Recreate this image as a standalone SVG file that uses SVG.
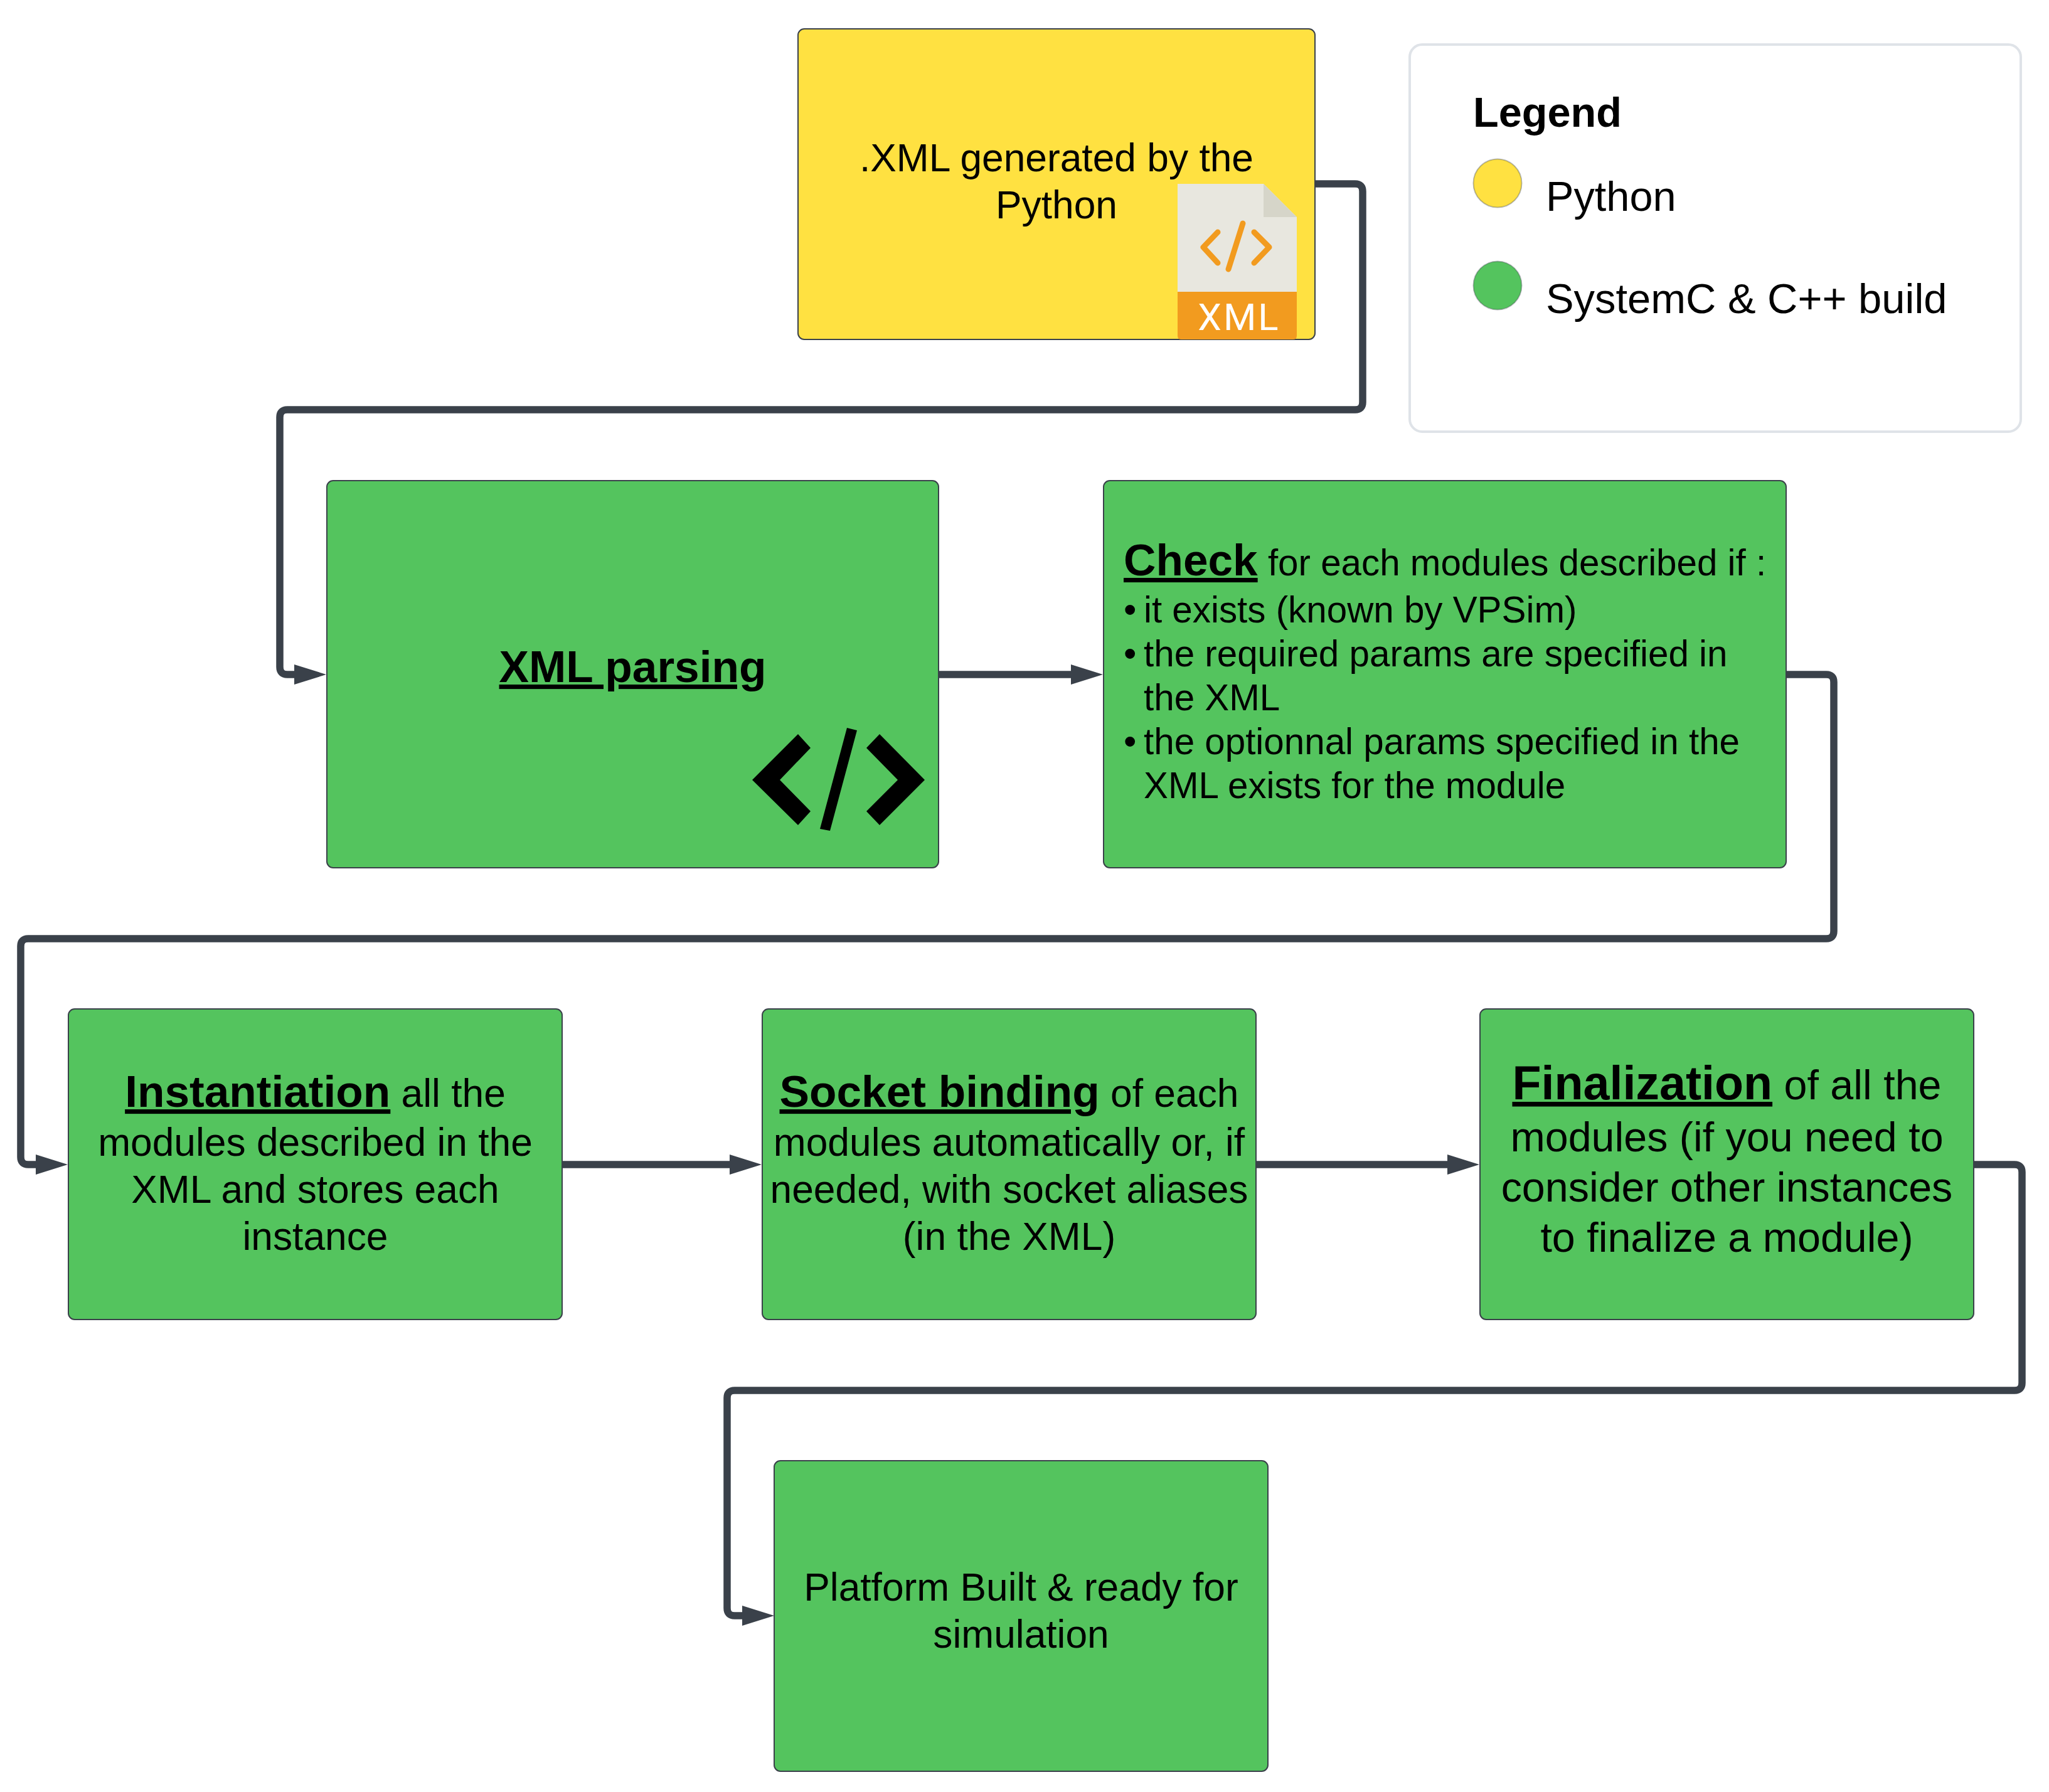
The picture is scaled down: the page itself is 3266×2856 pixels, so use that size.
<svg xmlns="http://www.w3.org/2000/svg" width="3266" height="2856" viewBox="0 0 3266 2856">
<style>
text{font-family:"Liberation Sans",Arial,sans-serif;fill:#000}
.box{stroke:#3a414a;stroke-width:2}
.g{fill:#54c45e}
.y{fill:#ffe141}
.m{text-anchor:middle}
.f62{font-size:62.3px}
.f66{font-size:66.4px}
.f67{font-size:66.67px}
.f58{font-size:58.33px}
.b71{font-size:71.2px;font-weight:bold;text-decoration:underline;text-decoration-skip-ink:none}
.b75{font-size:75.4px;font-weight:bold;text-decoration:underline;text-decoration-skip-ink:none}
.c{fill:none;stroke:#3a414a;stroke-width:11.5;stroke-linejoin:round}
.o{fill:none;stroke:#f29b1f;stroke-width:9;stroke-linecap:round;stroke-linejoin:round}
</style>
<defs>
<marker id="arrow" markerUnits="userSpaceOnUse" markerWidth="52" markerHeight="34" refX="1" refY="17" orient="auto"><path d="M0,1 L51,17 L0,33 Z" fill="#3a414a"/></marker>
</defs>
<rect width="3266" height="2856" fill="#fff"/>
<g id="connectors">
<path class="c" marker-end="url(#arrow)" d="M2096,293 H2160 Q2172,293 2172,305 V641 Q2172,653 2160,653 H458 Q446,653 446,665 V1063 Q446,1075 458,1075 H470"/>
<path class="c" marker-end="url(#arrow)" d="M1496,1075 H1708"/>
<path class="c" marker-end="url(#arrow)" d="M2847,1075 H2911 Q2923,1075 2923,1087 V1484 Q2923,1496 2911,1496 H45 Q33,1496 33,1508 V1844 Q33,1856 45,1856 H58"/>
<path class="c" marker-end="url(#arrow)" d="M896,1856 H1164"/>
<path class="c" marker-end="url(#arrow)" d="M2002,1856 H2308"/>
<path class="c" marker-end="url(#arrow)" d="M3146,1856 H3211 Q3223,1856 3223,1868 V2204 Q3223,2216 3211,2216 H1171 Q1159,2216 1159,2228 V2563 Q1159,2575 1171,2575 H1184"/>
</g>
<g id="node-xml">
<rect class="box y" x="1272" y="46" width="824" height="495" rx="10"/>
<text class="m f62" x="1684" y="273">.XML generated by the</text>
<text class="m f62" x="1684" y="348">Python</text>
<path d="M1877,293 H2014 L2067,346 V465 H1877 Z" fill="#e8e7df"/>
<path d="M2014,293 L2067,346 H2014 Z" fill="#d6d5c9"/>
<path d="M1877,465 H2067 V535 Q2067,541 2061,541 H1883 Q1877,541 1877,535 Z" fill="#f29b1f"/>
<path class="o" d="M1941,370 L1918,394 L1941,419 M1999,370 L2023,394 L1999,419 M1981,356 L1958,429"/>
<text x="1975" y="526" text-anchor="middle" style="font-family:Roboto,sans-serif;font-size:60px;letter-spacing:3px;fill:#fff">XML</text>
</g>
<g id="legend">
<rect x="2247" y="71" width="974" height="617" rx="20" fill="#fff" stroke="#dfe3e8" stroke-width="4"/>
<text x="2348" y="202" style="font-size:66.67px;font-weight:bold">Legend</text>
<ellipse class="y" cx="2387" cy="292" rx="38.5" ry="38.5" stroke="#3a414a" stroke-opacity=".35" stroke-width="2"/>
<text class="f67" x="2464" y="336">Python</text>
<ellipse class="g" cx="2387" cy="455" rx="38.5" ry="38.5" stroke="#3a414a" stroke-opacity=".35" stroke-width="2"/>
<text class="f67" x="2464" y="499" style="font-size:66.9px">SystemC &amp; C++ build</text>
</g>
<g id="node-parsing">
<rect class="box g" x="521" y="766" width="975" height="617" rx="10"/>
<text class="m" x="1008.500" y="1087"><tspan class="b71">XML parsing</tspan></text>
<path fill="#000" d="M1199,1243 L1272,1170 L1292,1192 L1243,1243 L1292,1293 L1272,1315 Z M1474,1243 L1402,1170 L1381,1192 L1431,1243 L1381,1293 L1402,1315 Z M1350,1160 L1366,1164 L1323,1324 L1307,1321 Z"/>
</g>
<g id="node-check">
<rect class="box g" x="1759" y="766" width="1088" height="617" rx="10"/>
<text class="f58" x="1791" y="917"><tspan class="b71">Check</tspan> for each modules described if :</text>
<text class="f58" x="1791" y="992">•</text><text class="f58" x="1823" y="992">it exists (known by VPSim)</text>
<text class="f58" x="1791" y="1062">•</text><text class="f58" x="1823" y="1062">the required params are specified in</text>
<text class="f58" x="1823" y="1132">the XML</text>
<text class="f58" x="1791" y="1202">•</text><text class="f58" x="1823" y="1202">the optionnal params specified in the</text>
<text class="f58" x="1823" y="1272">XML exists for the module</text>
</g>
<g id="node-instantiation">
<rect class="box g" x="109" y="1608" width="787" height="495" rx="10"/>
<text class="m f62" x="502.500" y="1764"><tspan class="b71">Instantiation</tspan> all the</text>
<text class="m f62" x="502.500" y="1842">modules described in the</text>
<text class="m f62" x="502.500" y="1917">XML and stores each</text>
<text class="m f62" x="502.500" y="1992">instance</text>
</g>
<g id="node-socket">
<rect class="box g" x="1215" y="1608" width="787" height="495" rx="10"/>
<text class="m f62" x="1608.500" y="1764"><tspan class="b71">Socket binding</tspan> of each</text>
<text class="m f62" x="1608.500" y="1842">modules automatically or, if</text>
<text class="m f62" x="1608.500" y="1917">needed, with socket aliases</text>
<text class="m f62" x="1608.500" y="1992">(in the XML)</text>
</g>
<g id="node-finalization">
<rect class="box g" x="2359" y="1608" width="787" height="495" rx="10"/>
<text class="m f66" x="2752.500" y="1752"><tspan class="b75">Finalization</tspan> of all the</text>
<text class="m f66" x="2752.500" y="1835">modules (if you need to</text>
<text class="m f66" x="2752.500" y="1915">consider other instances</text>
<text class="m f66" x="2752.500" y="1995">to finalize a module)</text>
</g>
<g id="node-platform">
<rect class="box g" x="1234" y="2328" width="787" height="495" rx="10"/>
<text class="m f62" x="1627.500" y="2551">Platform Built &amp; ready for</text>
<text class="m f62" x="1627.500" y="2626">simulation</text>
</g>
</svg>
